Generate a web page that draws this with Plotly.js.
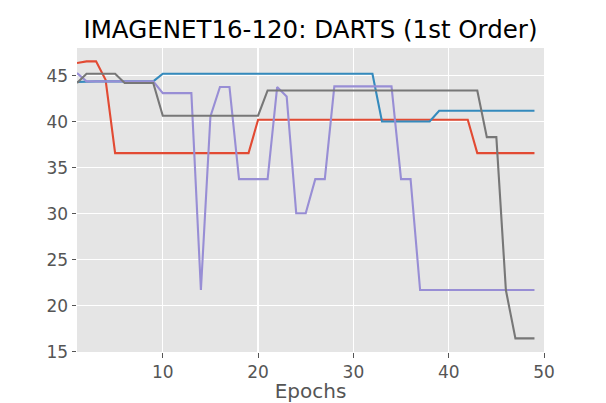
<!DOCTYPE html>
<html>
<head>
<meta charset="utf-8">
<script src="https://cdn.plot.ly/plotly-3.0.1.min.js"></script>
<style>
  html, body { margin: 0; padding: 0; background: #ffffff; }
  #plot { width: 606px; height: 403px; }
</style>
</head>
<body>
<div id="plot"></div>
<script>
const epochs = [1,2,3,4,5,6,7,8,9,10,11,12,13,14,15,16,17,18,19,20,21,22,23,24,25,26,27,28,29,30,31,32,33,34,35,36,37,38,39,40,41,42,43,44,45,46,47,48,49];

const seriesRed = [46.37,46.55,46.55,44.55,
  36.58,36.58,36.58,36.58,36.58,36.58,36.58,36.58,36.58,36.58,36.58,36.58,36.58,36.58,36.58,
  40.2,40.2,40.2,40.2,40.2,40.2,40.2,40.2,40.2,40.2,40.2,40.2,40.2,40.2,40.2,40.2,40.2,40.2,40.2,40.2,40.2,40.2,40.2,
  36.58,36.58,36.58,36.58,36.58,36.58,36.58];

const seriesBlue = [44.3,
  44.37,44.37,44.37,44.37,44.37,44.37,44.37,44.37,
  45.2,45.2,45.2,45.2,45.2,45.2,45.2,45.2,45.2,45.2,45.2,45.2,45.2,45.2,45.2,45.2,45.2,45.2,45.2,45.2,45.2,45.2,45.2,
  40.02,40.02,40.02,40.02,40.02,40.02,
  41.18,41.18,41.18,41.18,41.18,41.18,41.18,41.18,41.18,41.18,41.18];

const seriesPurple = [45.28,
  44.37,44.37,44.37,44.37,44.37,44.37,44.37,44.37,
  43.1,43.1,43.1,43.1,
  21.7,40.56,43.76,43.76,
  33.75,33.75,33.75,33.75,
  43.76,42.74,30.05,30.05,33.75,33.75,
  43.83,43.83,43.83,43.83,43.83,43.83,43.83,
  33.75,33.75,
  21.7,21.7,21.7,21.7,21.7,21.7,21.7,21.7,21.7,21.7,21.7,21.7,21.7];

const seriesGray = [44.2,
  45.2,45.2,45.2,45.2,
  44.2,44.2,44.2,44.2,
  40.64,40.64,40.64,40.64,40.64,40.64,40.64,40.64,40.64,40.64,40.64,
  43.39,43.39,43.39,43.39,43.39,43.39,43.39,43.39,43.39,43.39,43.39,43.39,43.39,43.39,43.39,43.39,43.39,43.39,43.39,43.39,43.39,43.39,43.39,
  38.32,38.32,21.7,
  16.45,16.45,16.45];

const yTicks = [15,20,25,30,35,40,45];
const xTicks = [10,20,30,40,50];

const titleText = 'IMAGENET16-120: DARTS (1st Order)';
const xLabel = 'Epochs';

const colors = ['#E24A33','#348ABD','#988ED5','#777777'];
const allSeries = [seriesRed, seriesBlue, seriesPurple, seriesGray];

const traces = allSeries.map((s, i) => ({
  x: epochs, y: s, type: 'scatter', mode: 'lines',
  line: {color: colors[i], width: 2.1},
  hoverinfo: 'skip', showlegend: false
}));

const font = 'DejaVu Sans, Verdana, sans-serif';

const layout = {
  width: 606, height: 403,
  margin: {l: 77, r: 61.7, t: 48.3, b: 51, pad: 0},
  paper_bgcolor: '#ffffff',
  plot_bgcolor: '#E5E5E5',
  font: {family: font, color: '#555555'},
  title: {text: titleText, font: {family: font, size: 24.5, color: '#000000'},
          x: 0.5, xref: 'paper', y: 1 - 29/403, yref: 'container', yanchor: 'middle'},
  xaxis: {
    range: [1, 50], tickvals: xTicks, ticktext: xTicks.map(String),
    showgrid: true, gridcolor: '#ffffff', gridwidth: 1.2, zeroline: false,
    ticks: 'outside', ticklen: 4.5, tickwidth: 1, tickcolor: '#555555',
    tickfont: {family: font, size: 17, color: '#555555'},
    showline: false,
    title: {text: xLabel, font: {family: font, size: 20, color: '#555555'}, standoff: 5}
  },
  yaxis: {
    range: [14.97, 48.0], tickvals: yTicks, ticktext: yTicks.map(String),
    showgrid: true, gridcolor: '#ffffff', gridwidth: 1.2, zeroline: false,
    ticks: 'outside', ticklen: 4.5, tickwidth: 1, tickcolor: '#555555',
    tickfont: {family: font, size: 17, color: '#555555'},
    showline: false
  }
};

Plotly.newPlot('plot', traces, layout, {staticPlot: true, displayModeBar: false});
</script>
</body>
</html>
